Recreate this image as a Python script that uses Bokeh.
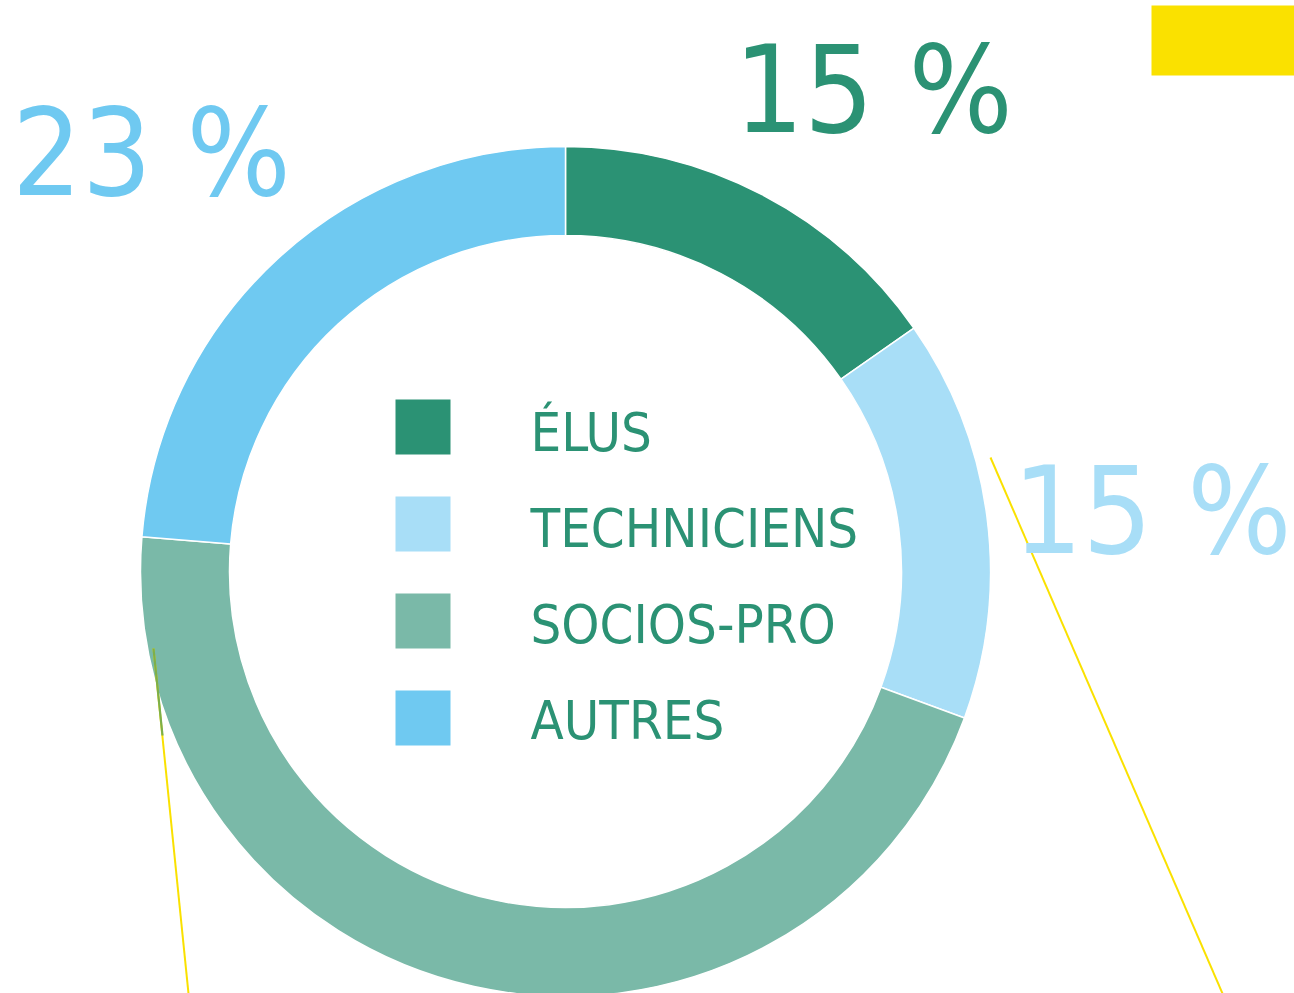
import numpy as np
from bokeh.plotting import figure
from bokeh.models import ColumnDataSource, Range1d
from bokeh.core.properties import value
from bokeh.embed import file_html
from bokeh.resources import INLINE

# ---- data -------------------------------------------------------------
categories = ["ÉLUS", "TECHNICIENS", "SOCIOS-PRO", "AUTRES"]
shares = [15.3, 15.3, 45.7, 23.7]          # drawn proportions
pct_labels = ["15 %", "15 %", "23 %"]      # printed labels (élus, techniciens, autres)
colors = ["#2B9274", "#A8DEF7", "#7AB9A8", "#6FC9F1"]

# ---- layout -----------------------------------------------------------
W, H = 1294, 993
FONT = "Noto Sans Condensed, DejaVu Sans Condensed, Roboto Condensed, Roboto, sans-serif"
TEXT_GREEN = "#2B9274"
YELLOW = "#FAE100"
SHIFT = 0.37   # renderer places the alphabetic baseline ~0.37 em low


def Y(px):
    return H - px


p = figure(width=W, height=H, x_range=Range1d(0, W), y_range=Range1d(0, H),
           output_backend="svg", toolbar_location=None, min_border=0)
p.axis.visible = False
p.grid.visible = False
p.outline_line_color = None
p.background_fill_color = "white"
p.border_fill_color = "white"

# yellow tag, top right
p.quad(left=1151, right=W, top=Y(5), bottom=Y(75), fill_color=YELLOW, line_color=None)

# donut
cx, cy = 565, Y(571)
r_in, r_out = 336, 425
frac = np.array(shares, dtype=float) / sum(shares)
ends = np.cumsum(frac)
starts = ends - frac
src = ColumnDataSource(dict(
    start=np.pi / 2 - 2 * np.pi * starts,
    end=np.pi / 2 - 2 * np.pi * ends,
    color=colors,
    cat=categories,
))
p.annular_wedge(x=cx, y=cy, inner_radius=r_in, outer_radius=r_out,
                start_angle="start", end_angle="end", direction="clock",
                fill_color="color", line_color="white", line_width=1.5, source=src)

# leader lines
p.segment(x0=[990, 153], y0=[Y(457), Y(648)], x1=[1222, 188], y1=[Y(993), Y(993)],
          line_color=YELLOW, line_width=2)
p.segment(x0=[153], y0=[Y(648)], x1=[162], y1=[Y(735)],
          line_color="#7DAF4B", line_width=2.2)

# legend squares + labels
n = len(categories)
LEG_SIZE = 54
sq_top = [399 + 97 * i for i in range(n)]
p.quad(left=395, right=450, top=[Y(t) for t in sq_top], bottom=[Y(t + 55) for t in sq_top],
       fill_color=colors, line_color=None)
leg = ColumnDataSource(dict(
    x=[530] * n,
    y=[Y(452 + 96 * i - SHIFT * LEG_SIZE) for i in range(n)],
    t=categories,
))
p.text(x="x", y="y", text="t", source=leg, text_font=value(FONT),
       text_font_size=f"{LEG_SIZE}px",
       text_color=TEXT_GREEN, text_align="left", text_baseline="alphabetic")

# percentage labels
PCT_SIZE = 122
pct = ColumnDataSource(dict(
    x=[873, 1291, 151],
    y=[Y(b - SHIFT * PCT_SIZE) for b in (135, 556, 198)],
    t=pct_labels,
    c=[colors[0], colors[1], colors[3]],
    a=["center", "right", "center"],
))
p.text(x="x", y="y", text="t", source=pct, text_font=value(FONT),
       text_font_size=f"{PCT_SIZE}px",
       text_color="c", text_align="a", text_baseline="alphabetic")

open("out.html", "w").write(file_html(p, INLINE))
